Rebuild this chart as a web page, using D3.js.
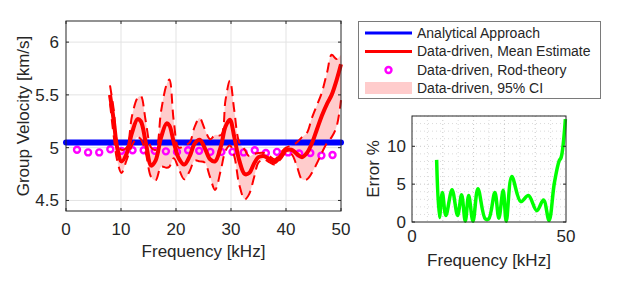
<!DOCTYPE html>
<html><head><meta charset="utf-8">
<script src="https://cdn.jsdelivr.net/npm/d3@7"></script>
<style>
body{margin:0;background:#fff;}
text{font-family:"Liberation Sans",Arial,Helvetica,sans-serif;fill:#262626;}
</style></head>
<body><svg id="chart" width="623" height="283"></svg>
<script>
// ---------- data ----------
const analyticalValue = 5.05;
const rodFreq = [2,4.02,6.04,8.06,10.08,12.1,14.12,16.14,18.16,20.18,22.2,24.22,26.24,28.26,30.28,32.3,34.32,36.34,38.36,40.38,42.4,44.42,46.44,48.46];
const rodVel  = [4.98,4.955,4.955,4.985,4.97,4.975,4.975,4.97,4.965,4.96,4.975,4.97,4.96,4.96,4.96,4.955,4.975,4.95,4.96,4.955,4.945,4.95,4.925,4.93];
const ddFreq  = [8.0,8.7,9.3,10.1,11.0,12.0,13.0,13.6,14.5,15.5,16.3,17.3,18.3,18.8,19.6,20.5,21.5,22.5,23.4,24.3,25.2,26.2,27.1,28.2,29.0,29.8,30.6,31.5,32.5,33.3,34.2,35.0,36.0,37.0,38.0,39.0,40.0,41.0,42.0,42.9,43.8,44.7,45.6,46.5,47.5,48.3,49.2,50.0];
const ddMean  = [5.50,5.25,5.00,4.87,4.94,5.14,5.27,5.25,5.05,4.83,4.88,5.10,5.23,5.21,5.05,4.90,4.84,4.92,5.04,5.075,5.00,4.89,4.87,5.02,5.20,5.265,5.10,4.88,4.75,4.76,4.85,4.91,4.92,4.89,4.865,4.92,4.975,4.98,4.94,4.91,4.95,5.04,5.17,5.30,5.42,5.50,5.64,5.79];
const ddUpper = [5.59,5.35,5.05,4.98,5.00,5.30,5.47,5.49,5.25,5.00,4.98,5.35,5.60,5.645,5.25,5.00,5.02,5.05,5.20,5.28,5.18,5.08,5.12,5.12,5.45,5.635,5.35,5.05,4.98,4.92,4.94,4.95,4.95,4.92,4.89,4.95,5.00,5.02,5.05,5.10,5.14,5.28,5.40,5.52,5.72,5.88,5.84,5.88];
const ddLower = [5.42,5.10,4.88,4.76,4.88,5.02,5.10,5.08,4.95,4.72,4.69,4.82,4.81,4.82,4.90,4.80,4.70,4.78,4.88,4.87,4.86,4.72,4.60,4.80,4.97,5.02,4.92,4.65,4.51,4.56,4.72,4.86,4.89,4.86,4.84,4.89,4.95,4.94,4.82,4.70,4.70,4.76,4.85,4.95,5.05,5.10,5.20,5.45];
const errFreq = [8.0,8.9,9.85,11.0,13.0,14.8,16.1,17.3,18.4,19.8,21.4,23.8,24.9,26.9,28.2,29.6,30.6,32.4,35.3,37.8,40.5,42.7,44.5,46.2,47.8,48.4,49.8];
const errPct  = [8.2,0.6,3.9,0.86,4.27,0.86,3.6,0.1,3.5,0.1,4.4,0.4,0.4,3.9,0.5,4.2,0.1,6.0,2.7,3.5,1.5,2.9,0.2,5.1,8.1,8.5,13.6];
const mainXTicks = [0,10,20,30,40,50];
const mainYTicks = [4.5,5,5.5,6];
const errXTicks = [0,50];
const errYTicks = [0,5,10];
const legendLabels = ["Analytical Approach","Data-driven, Mean Estimate","Data-driven, Rod-theory","Data-driven, 95% CI"];

// ---------- drawing ----------
const svg = d3.select("#chart");
const axisCol = "#262626", gridCol = "#e3e3e3";

// main axes
const M = {l:66, r:341, t:21, b:211};
const x = d3.scaleLinear().domain([0,50]).range([M.l, M.r]);
const y = d3.scaleLinear().domain([4.4,6.2]).range([M.b, M.t]);
const g = svg.append("g");

// grid
g.selectAll(".vg").data(mainXTicks.filter(d=>d>0&&d<50)).enter().append("line")
  .attr("x1",d=>x(d)).attr("x2",d=>x(d)).attr("y1",M.t).attr("y2",M.b)
  .attr("stroke",gridCol).attr("stroke-width",1);
g.selectAll(".hg").data(mainYTicks).enter().append("line")
  .attr("x1",M.l).attr("x2",M.r).attr("y1",d=>y(d)).attr("y2",d=>y(d))
  .attr("stroke",gridCol).attr("stroke-width",1);

const curve = d3.curveCatmullRom.alpha(0.5);
const idx = d3.range(ddFreq.length);
// CI band
g.append("path").datum(idx)
  .attr("d", d3.area().x(i=>x(ddFreq[i])).y0(i=>y(ddLower[i])).y1(i=>y(ddUpper[i])).curve(curve))
  .attr("fill","#ffcccc").attr("stroke","none");
// rod-theory circles
g.selectAll(".rod").data(rodFreq).enter().append("circle")
  .attr("cx",d=>x(d)).attr("cy",(d,i)=>y(rodVel[i])).attr("r",3)
  .attr("fill","none").attr("stroke","#ff00ff").attr("stroke-width",2.4);
// analytical line
g.append("line").attr("x1",x(0)).attr("x2",x(50)).attr("y1",y(analyticalValue)).attr("y2",y(analyticalValue))
  .attr("stroke","#0000ff").attr("stroke-width",6).attr("stroke-linecap","round");
// dashed CI bounds
[ddUpper, ddLower].forEach(arr=>{
  g.append("path").datum(idx)
   .attr("d", d3.line().x(i=>x(ddFreq[i])).y(i=>y(arr[i])).curve(curve))
   .attr("fill","none").attr("stroke","#ff0000").attr("stroke-width",2).attr("stroke-dasharray","10,6");
});
// mean
g.append("path").datum(idx)
  .attr("d", d3.line().x(i=>x(ddFreq[i])).y(i=>y(ddMean[i])).curve(curve))
  .attr("fill","none").attr("stroke","#ff0000").attr("stroke-width",4);

// box and ticks
g.append("rect").attr("x",M.l).attr("y",M.t).attr("width",M.r-M.l).attr("height",M.b-M.t)
  .attr("fill","none").attr("stroke",axisCol).attr("stroke-width",1);
const tl = 3;
mainXTicks.forEach(d=>{
  g.append("line").attr("x1",x(d)).attr("x2",x(d)).attr("y1",M.b).attr("y2",M.b-tl).attr("stroke",axisCol);
  g.append("line").attr("x1",x(d)).attr("x2",x(d)).attr("y1",M.t).attr("y2",M.t+tl).attr("stroke",axisCol);
  g.append("text").attr("x",x(d)).attr("y",235).attr("text-anchor","middle").attr("font-size",17).text(d);
});
mainYTicks.forEach(d=>{
  g.append("line").attr("x1",M.l).attr("x2",M.l+tl).attr("y1",y(d)).attr("y2",y(d)).attr("stroke",axisCol);
  g.append("line").attr("x1",M.r).attr("x2",M.r-tl).attr("y1",y(d)).attr("y2",y(d)).attr("stroke",axisCol);
  g.append("text").attr("x",59).attr("y",y(d)).attr("dy","0.35em").attr("text-anchor","end").attr("font-size",17).text(d);
});
g.append("text").attr("x",(M.l+M.r)/2).attr("y",257).attr("text-anchor","middle").attr("font-size",17).text("Frequency [kHz]");
g.append("text").attr("transform",`translate(28.5,${(M.t+M.b)/2}) rotate(-90)`).attr("text-anchor","middle").attr("font-size",17).text("Group Velocity [km/s]");

// legend
const L = svg.append("g");
L.append("rect").attr("x",358.5).attr("y",21.5).attr("width",242).attr("height",77)
  .attr("fill","#fff").attr("stroke","#7a7a7a").attr("stroke-width",1);
const ly = [33,51.5,70,88];
L.append("line").attr("x1",365).attr("x2",412).attr("y1",ly[0]).attr("y2",ly[0]).attr("stroke","#0000ff").attr("stroke-width",3);
L.append("line").attr("x1",365).attr("x2",412).attr("y1",ly[1]).attr("y2",ly[1]).attr("stroke","#ff0000").attr("stroke-width",3);
L.append("circle").attr("cx",388.5).attr("cy",ly[2]).attr("r",3).attr("fill","none").attr("stroke","#ff00ff").attr("stroke-width",2.4);
L.append("rect").attr("x",365).attr("y",ly[3]-6).attr("width",47).attr("height",12).attr("fill","#ffcccc");
legendLabels.forEach((t,i)=>{
  L.append("text").attr("x",417).attr("y",ly[i]).attr("dy","0.35em").attr("font-size",14).text(t);
});

// error axes
const E = {l:412, r:566, t:116, b:222};
const ex = d3.scaleLinear().domain([0,50]).range([E.l,E.r]);
const ey = d3.scaleLinear().domain([0,14]).range([E.b,E.t]);
const eg = svg.append("g");
d3.range(5,50,5).forEach(d=>{
  eg.append("line").attr("x1",ex(d)).attr("x2",ex(d)).attr("y1",E.t).attr("y2",E.b)
    .attr("stroke", d%10===0 ? "#c8c8c8" : "#dadada").attr("stroke-width",1).attr("stroke-dasharray","1,3");
});
d3.range(1,15,1).forEach(d=>{
  eg.append("line").attr("x1",E.l).attr("x2",E.r).attr("y1",ey(d)).attr("y2",ey(d))
    .attr("stroke", d%5===0 ? "#c8c8c8" : "#dadada").attr("stroke-width",1).attr("stroke-dasharray","1,3");
});
const eidx = d3.range(errFreq.length);
eg.append("path").datum(eidx)
  .attr("d", d3.line().x(i=>ex(errFreq[i])).y(i=>ey(errPct[i])).curve(d3.curveCatmullRom.alpha(0.5)))
  .attr("fill","none").attr("stroke","#00ff00").attr("stroke-width",3.5);
eg.append("rect").attr("x",E.l).attr("y",E.t).attr("width",E.r-E.l).attr("height",E.b-E.t)
  .attr("fill","none").attr("stroke",axisCol).attr("stroke-width",1);
errYTicks.forEach(d=>{
  eg.append("line").attr("x1",E.l).attr("x2",E.l+tl).attr("y1",ey(d)).attr("y2",ey(d)).attr("stroke",axisCol);
  eg.append("line").attr("x1",E.r).attr("x2",E.r-tl).attr("y1",ey(d)).attr("y2",ey(d)).attr("stroke",axisCol);
  eg.append("text").attr("x",406).attr("y",ey(d)).attr("dy","0.35em").attr("text-anchor","end").attr("font-size",17).text(d);
});
errXTicks.forEach(d=>{
  eg.append("text").attr("x",ex(d)).attr("y",241.5).attr("text-anchor","middle").attr("font-size",17).text(d);
});
eg.append("text").attr("x",(E.l+E.r)/2).attr("y",266).attr("text-anchor","middle").attr("font-size",17).text("Frequency [kHz]");
eg.append("text").attr("transform",`translate(379,${(E.t+E.b)/2}) rotate(-90)`).attr("text-anchor","middle").attr("font-size",17).text("Error %");
</script></body></html>
